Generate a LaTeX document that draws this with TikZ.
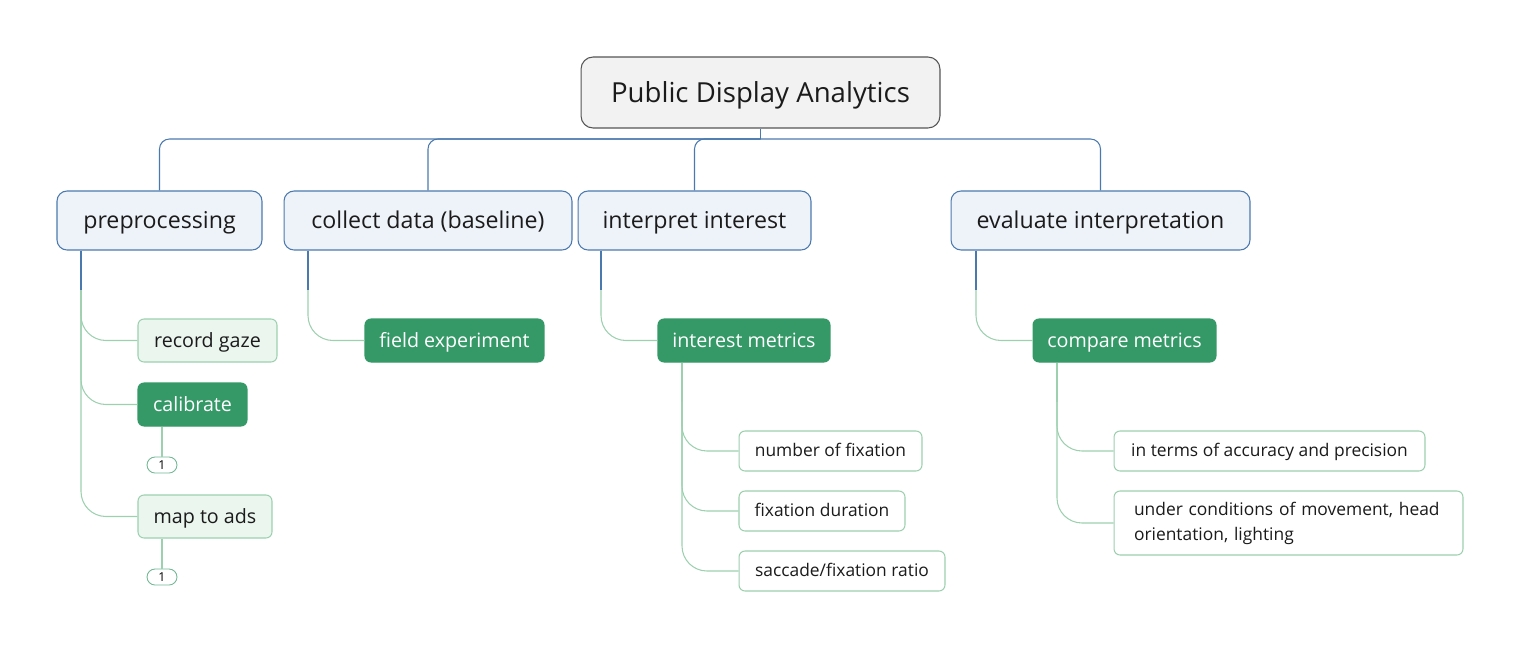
\documentclass[tikz,border=0pt]{standalone}
\usepackage{fontspec}
\setmainfont{Open Sans}
\usetikzlibrary{positioning}

\definecolor{rootfill}{HTML}{F2F2F2}
\definecolor{rootline}{HTML}{555555}
\definecolor{branchfill}{HTML}{EEF3FA}
\definecolor{branchline}{HTML}{4A79AE}
\definecolor{darkgreen}{HTML}{349966}
\definecolor{palegreen}{HTML}{EBF6EF}
\definecolor{greenline}{HTML}{9CD0AF}
\definecolor{ink}{HTML}{1B1B1B}

\begin{document}
\begin{tikzpicture}[x=0.02cm, y=-0.02cm,
  root/.style={draw=rootline, fill=rootfill, rounded corners=0.24cm, line width=0.6pt,
    minimum height=1.42cm, font=\fontsize{15.7}{18}\selectfont, text=ink,
    text height=14pt, text depth=3pt},
  branch/.style={draw=branchline, fill=branchfill, rounded corners=0.2cm, line width=0.6pt,
    minimum height=1.18cm, font=\fontsize{13.2}{16}\selectfont, text=ink,
    text height=13pt, text depth=3.4pt},
  leaf/.style={draw=greenline, fill=palegreen, rounded corners=0.12cm, line width=0.6pt,
    minimum height=0.86cm, font=\fontsize{11.2}{13}\selectfont, text=ink,
    text height=10pt, text depth=2.2pt},
  keyleaf/.style={leaf, draw=darkgreen, fill=darkgreen, text=white},
  itembox/.style={draw=greenline, fill=white, rounded corners=0.12cm, line width=0.6pt,
    minimum height=0.8cm, font=\fontsize{9.9}{14.2}\selectfont, text=ink},
  item/.style={itembox, text height=8.5pt, text depth=2.5pt},
  badge/.style={draw=darkgreen!70, fill=white, rounded corners=0.16cm, line width=0.5pt,
    minimum width=0.6cm, minimum height=0.32cm, inner sep=0pt, font=\fontsize{7}{8}\selectfont},
  blueline/.style={draw=branchline, line width=0.6pt},
  greenlink/.style={draw=greenline, line width=0.6pt, rounded corners=0.5cm}]
  \useasboundingbox (0,0) rectangle (1521,649);

  \node[root, minimum width=7.18cm] (pda) at (760.5,92.5) {Public Display Analytics};

  \node[branch, minimum width=4.1cm] (pre) at (159.5,220.5) {preprocessing};
  \node[branch, minimum width=5.76cm] (col) at (428,220.5) {collect data (baseline)};
  \node[branch, minimum width=4.66cm] (int) at (694.5,220.5) {interpret interest};
  \node[branch, minimum width=5.98cm] (eva) at (1100.5,220.5) {evaluate interpretation};

  \node[leaf, minimum width=2.78cm] (rec) at (207.5,340.5) {record gaze};
  \node[keyleaf, minimum width=2.18cm] (cal) at (192.5,404.5) {calibrate};
  \node[badge] (calb) at (162,465) {1};
  \node[leaf, minimum width=2.68cm] (map) at (205,516.5) {map to ads};
  \node[badge] (mapb) at (162,577) {1};

  \node[keyleaf, minimum width=3.58cm] (fie) at (454.5,340.5) {field experiment};

  \node[keyleaf, minimum width=3.44cm] (met) at (744,340.5) {interest metrics};
  \node[item, minimum width=3.66cm] (num) at (830.5,451) {number of fixation};
  \node[item, minimum width=3.32cm] (dur) at (822,511) {fixation duration};
  \node[item, minimum width=4.12cm] (sac) at (842,571) {saccade/fixation ratio};

  \node[keyleaf, minimum width=3.66cm] (cmp) at (1124.5,340.5) {compare metrics};
  \node[item, minimum width=6.22cm] (acc) at (1269.5,451) {in terms of accuracy and precision};
  \node[itembox, minimum height=1.28cm, text width=6.18cm, align=left, inner xsep=0.4cm] (und) at (1288.5,523)
    {\rule{0pt}{8pt}under conditions of movement, head\\orientation, lighting};

  % root to main branches
  \coordinate (hub) at (760.5,139);
  \draw[blueline] (pda.south) -- (hub);
  \foreach \b in {pre,col,int,eva}
    \draw[blueline, rounded corners=0.2cm] (hub) -| (\b.north);

  % trunks below the branches
  \coordinate (preT) at (81,290);
  \coordinate (colT) at (308,290);
  \coordinate (intT) at (601,290);
  \coordinate (evaT) at (976,290);
  \draw[blueline] (pre.south -| preT) -- (preT);
  \draw[blueline] (col.south -| colT) -- (colT);
  \draw[blueline] (int.south -| intT) -- (intT);
  \draw[blueline] (eva.south -| evaT) -- (evaT);

  \foreach \c in {rec,cal,map}
    \draw[greenlink] (preT) |- (\c.west);
  \draw[greenlink] (colT) |- (fie.west);
  \draw[greenlink] (intT) |- (met.west);
  \draw[greenlink] (evaT) |- (cmp.west);

  \coordinate (metT) at (682,402);
  \coordinate (cmpT) at (1057,402);
  \draw[greenlink] (met.south -| metT) -- (metT);
  \draw[greenlink] (cmp.south -| cmpT) -- (cmpT);
  \foreach \c in {num,dur,sac}
    \draw[greenlink] (metT) |- (\c.west);
  \foreach \c in {acc,und}
    \draw[greenlink] (cmpT) |- (\c.west);

  % note badges
  \draw[greenlink] (cal.south -| calb) -- (calb.north);
  \draw[greenlink] (map.south -| mapb) -- (mapb.north);
\end{tikzpicture}
\end{document}
